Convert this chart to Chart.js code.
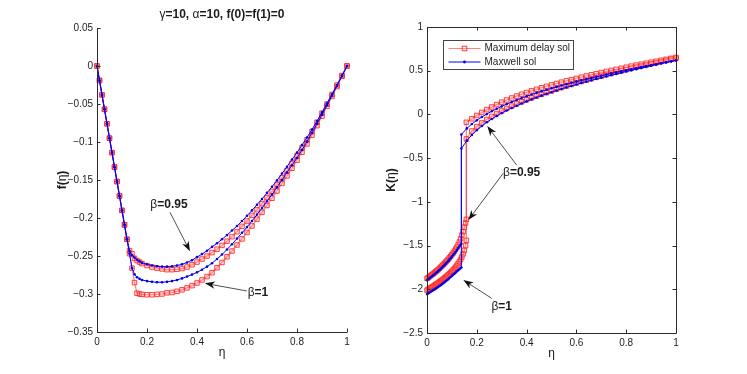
<!DOCTYPE html>
<html>
<head>
<meta charset="utf-8">
<script src="https://cdn.jsdelivr.net/npm/chart.js"></script>
<style>
  html, body { margin: 0; padding: 0; background: #fff; }
  #wrap { position: relative; width: 747px; height: 374px; overflow: hidden; }
  canvas { position: absolute; top: 0; }
  #fChart { left: 0; }
  #kChart { left: 373px; }
</style>
</head>
<body>
<div id="wrap">
  <canvas id="fChart" width="373" height="374"></canvas>
  <canvas id="kChart" width="374" height="374"></canvas>
</div>
<script>
// ---- data ----
const xTicks = [0, 0.2, 0.4, 0.6, 0.8, 1];
const fTicks = [0.05, 0, -0.05, -0.1, -0.15, -0.2, -0.25, -0.3, -0.35];
const kTicks = [1, 0.5, 0, -0.5, -1, -1.5, -2, -2.5];

const etaTail = [0.20, 0.22, 0.24, 0.26, 0.28, 0.30, 0.32, 0.34, 0.36, 0.38, 0.40, 0.42, 0.44, 0.46, 0.48,
    0.50, 0.52, 0.54, 0.56, 0.58, 0.60, 0.62, 0.64, 0.66, 0.68, 0.70, 0.72, 0.74, 0.76, 0.78, 0.80,
    0.82, 0.84, 0.86, 0.88, 0.90, 0.92, 0.94, 0.96, 0.98, 1.00];
const etaLeft = [0, 0.01, 0.02, 0.03, 0.04, 0.05, 0.06, 0.07, 0.08, 0.09, 0.10, 0.11, 0.12,
    0.13, 0.14, 0.15, 0.16, 0.17, 0.18].concat(etaTail);

// f(eta), beta = 0.95 and beta = 1
const fMaxwell095 = [0, -0.019, -0.038, -0.057, -0.076, -0.095, -0.114, -0.133, -0.152, -0.171, -0.19, -0.209, -0.228,
    -0.243, -0.249, -0.252, -0.255, -0.257, -0.259,
    -0.261, -0.2625, -0.2635, -0.264, -0.264, -0.2635, -0.2625, -0.261, -0.2585, -0.2555, -0.2515, -0.2475, -0.243,
    -0.238, -0.2333, -0.228, -0.2225, -0.2165, -0.2105, -0.204, -0.197, -0.19, -0.1825, -0.175, -0.167, -0.159,
    -0.1505, -0.1415, -0.1325, -0.123, -0.114, -0.104, -0.094, -0.0835, -0.0725, -0.061, -0.049, -0.037, -0.025, -0.0125, 0];
const fDelay095 = [0, -0.019, -0.038, -0.057, -0.076, -0.095, -0.114, -0.133, -0.152, -0.171, -0.19, -0.209, -0.228,
    -0.243, -0.247, -0.253, -0.256, -0.258, -0.26,
    -0.2625, -0.2645, -0.266, -0.267, -0.268, -0.268, -0.2675, -0.2665, -0.2645, -0.2615, -0.258, -0.254, -0.25,
    -0.2455, -0.241, -0.236, -0.2305, -0.2245, -0.218, -0.211, -0.204, -0.1965, -0.189, -0.181, -0.173, -0.165,
    -0.156, -0.147, -0.1375, -0.128, -0.118, -0.1075, -0.097, -0.086, -0.074, -0.062, -0.05, -0.0375, -0.025, -0.0125, 0];
const fMaxwell1 = [0, -0.019, -0.038, -0.057, -0.076, -0.095, -0.114, -0.133, -0.152, -0.171, -0.19, -0.209, -0.228,
    -0.247, -0.266, -0.274, -0.278, -0.28, -0.2815,
    -0.283, -0.284, -0.2845, -0.2845, -0.284, -0.283, -0.2815, -0.2795, -0.277, -0.2745, -0.2715, -0.268, -0.264,
    -0.2595, -0.254, -0.248, -0.2415, -0.2345, -0.227, -0.2195, -0.212, -0.204, -0.1955, -0.187, -0.178, -0.169,
    -0.1595, -0.15, -0.14, -0.1305, -0.121, -0.1105, -0.0995, -0.088, -0.076, -0.064, -0.0515, -0.039, -0.026, -0.013, 0];
const fDelay1 = [0, -0.019, -0.038, -0.057, -0.076, -0.095, -0.114, -0.133, -0.152, -0.171, -0.19, -0.209, -0.228,
    -0.247, -0.266, -0.285, -0.299, -0.3, -0.3005,
    -0.301, -0.301, -0.3005, -0.3, -0.2985, -0.298, -0.2965, -0.2945, -0.292, -0.289, -0.2855, -0.2815, -0.277,
    -0.272, -0.2655, -0.2585, -0.251, -0.2435, -0.2355, -0.2275, -0.219, -0.2105, -0.2015, -0.1925, -0.1835, -0.174,
    -0.1645, -0.1545, -0.1445, -0.1345, -0.124, -0.1135, -0.1025, -0.091, -0.0785, -0.066, -0.053, -0.04, -0.027, -0.0135, 0];

// K(eta): lower branch, then jump, then upper branch
const etaLowMaxwell = [0, 0.005, 0.01, 0.015, 0.02, 0.025, 0.03, 0.035, 0.04, 0.045, 0.05, 0.055, 0.06, 0.065, 0.07,
    0.075, 0.08, 0.085, 0.09, 0.095, 0.10, 0.105, 0.11, 0.115, 0.12, 0.125, 0.13, 0.135, 0.138];
const etaLowDelay = [0, 0.005, 0.01, 0.015, 0.02, 0.025, 0.03, 0.035, 0.04, 0.045, 0.05, 0.055, 0.06, 0.065, 0.07,
    0.075, 0.08, 0.085, 0.09, 0.095, 0.10, 0.105, 0.11, 0.115, 0.12, 0.125, 0.13, 0.135, 0.14, 0.145, 0.15, 0.155, 0.158];
const etaUpMaxwell = [0.138, 0.16, 0.18].concat(etaTail);
const etaUpDelay = [0.158, 0.18].concat(etaTail);

const kMaxwell095Low = [-1.895, -1.884, -1.873, -1.862, -1.851, -1.84, -1.828, -1.816, -1.804, -1.792, -1.779, -1.766,
    -1.752, -1.738, -1.724, -1.709, -1.694, -1.678, -1.661, -1.644, -1.626, -1.608, -1.59, -1.571, -1.552, -1.532,
    -1.51, -1.49, -1.48];
const kMaxwell1Low = [-2.055, -2.047, -2.038, -2.029, -2.02, -2.011, -2.002, -1.993, -1.983, -1.973, -1.963, -1.953,
    -1.942, -1.931, -1.92, -1.909, -1.897, -1.885, -1.872, -1.86, -1.848, -1.835, -1.822, -1.809, -1.795, -1.782,
    -1.77, -1.757, -1.75];
const kDelay095Low = [-1.876, -1.866, -1.855, -1.844, -1.833, -1.822, -1.81, -1.798, -1.786, -1.773, -1.76, -1.747,
    -1.733, -1.719, -1.704, -1.689, -1.673, -1.657, -1.64, -1.622, -1.604, -1.585, -1.564, -1.542, -1.518, -1.491,
    -1.46, -1.424, -1.38, -1.34, -1.29, -1.24, -1.2];
const kDelay1Low = [-2.01, -2.001, -1.992, -1.983, -1.974, -1.965, -1.955, -1.946, -1.936, -1.926, -1.916, -1.906,
    -1.895, -1.884, -1.872, -1.86, -1.848, -1.835, -1.822, -1.808, -1.794, -1.779, -1.763, -1.746, -1.727, -1.706,
    -1.684, -1.659, -1.63, -1.595, -1.555, -1.5, -1.44];

const kMaxwell095Up = [-0.23, -0.16, -0.11, -0.068, -0.03, 0.004, 0.036, 0.065, 0.092, 0.118, 0.142, 0.165, 0.187, 0.208,
    0.228, 0.247, 0.265, 0.282, 0.299, 0.315, 0.331, 0.346, 0.361, 0.375, 0.389, 0.403, 0.417, 0.43, 0.443, 0.456,
    0.469, 0.481, 0.493, 0.505, 0.517, 0.529, 0.541, 0.552, 0.563, 0.574, 0.585, 0.596, 0.607, 0.618];
const kMaxwell1Up = [-0.39, -0.3, -0.235, -0.18, -0.132, -0.09, -0.052, -0.017, 0.015, 0.045, 0.073, 0.1, 0.125, 0.149,
    0.172, 0.194, 0.215, 0.235, 0.254, 0.273, 0.291, 0.309, 0.326, 0.343, 0.359, 0.375, 0.39, 0.405, 0.42, 0.435,
    0.449, 0.463, 0.477, 0.491, 0.504, 0.517, 0.53, 0.543, 0.556, 0.569, 0.582, 0.594, 0.606, 0.615];
const kDelay095Up = [-0.09, -0.05, -0.012, 0.023, 0.055, 0.085, 0.113, 0.14, 0.165, 0.188, 0.21, 0.231, 0.251, 0.27,
    0.288, 0.305, 0.322, 0.338, 0.354, 0.369, 0.384, 0.398, 0.412, 0.426, 0.44, 0.453, 0.466, 0.479, 0.492, 0.504,
    0.516, 0.528, 0.54, 0.552, 0.564, 0.575, 0.586, 0.597, 0.608, 0.619, 0.63, 0.641, 0.652];
const kDelay1Up = [-0.28, -0.19, -0.14, -0.097, -0.058, -0.023, 0.01, 0.04, 0.068, 0.095, 0.12, 0.144, 0.167, 0.189,
    0.21, 0.23, 0.249, 0.268, 0.288, 0.307, 0.325, 0.343, 0.36, 0.377, 0.393, 0.409, 0.425, 0.44, 0.455, 0.47,
    0.484, 0.498, 0.512, 0.526, 0.54, 0.553, 0.566, 0.579, 0.592, 0.605, 0.618, 0.631, 0.643];

const legendNames = ['Maximum delay sol', 'Maxwell sol'];

// ---- drawing helpers ----
const FONT = '"Liberation Sans", Arial, Helvetica, sans-serif';
const INK = '#1c1c1c';
const AXIS = '#2a2a2a';
const RED_LINE = 'rgba(255, 45, 45, 0.6)';
const RED_EDGE = 'rgba(255, 25, 25, 0.8)';
const RED_FILL = 'rgba(255, 160, 160, 0.3)';
const BLUE = '#0000ff';

function pts(xs, ys) {
    return xs.map((x, i) => ({ x: x, y: ys[i] }));
}

function fmt(v) {
    if (v === 0) return '0';
    return (v < 0 ? '\u2212' : '') + String(Math.abs(v));
}

function drawRich(ctx, parts, x, y, size, align) {
    let total = 0;
    parts.forEach(p => {
        ctx.font = (p.b ? 'bold ' : '') + size + 'px ' + FONT;
        p.w = ctx.measureText(p.t).width;
        total += p.w;
    });
    let cx = align === 'left' ? x : x - total / 2;
    ctx.textAlign = 'left';
    ctx.textBaseline = 'middle';
    ctx.fillStyle = INK;
    parts.forEach(p => {
        ctx.font = (p.b ? 'bold ' : '') + size + 'px ' + FONT;
        ctx.fillText(p.t, cx, y);
        cx += p.w;
    });
}

function drawArrow(ctx, x1, y1, x2, y2) {
    const ang = Math.atan2(y2 - y1, x2 - x1);
    const head = 10, half = 3.6;
    ctx.strokeStyle = '#222';
    ctx.fillStyle = '#111';
    ctx.lineWidth = 0.8;
    ctx.beginPath();
    ctx.moveTo(x1, y1);
    ctx.lineTo(x2 - head * 0.6 * Math.cos(ang), y2 - head * 0.6 * Math.sin(ang));
    ctx.stroke();
    ctx.save();
    ctx.translate(x2, y2);
    ctx.rotate(ang);
    ctx.beginPath();
    ctx.moveTo(0, 0);
    ctx.lineTo(-head, -half);
    ctx.lineTo(-head * 0.7, 0);
    ctx.lineTo(-head, half);
    ctx.closePath();
    ctx.fill();
    ctx.restore();
}

const matlabLook = {
    id: 'matlab',
    afterDraw(chart, args, o) {
        const ctx = chart.ctx, a = chart.chartArea;
        const xs = chart.scales.x, ys = chart.scales.y;
        ctx.save();

        // axes lines and inward ticks
        ctx.strokeStyle = AXIS;
        ctx.lineWidth = 1;
        ctx.beginPath();
        if (o.box) {
            ctx.rect(a.left + 0.5, a.top + 0.5, a.right - a.left, a.bottom - a.top);
        } else {
            ctx.moveTo(a.left + 0.5, a.top);
            ctx.lineTo(a.left + 0.5, a.bottom + 0.5);
            ctx.lineTo(a.right + 0.5, a.bottom + 0.5);
        }
        const T = 3.5;
        xs.ticks.forEach(t => {
            const px = Math.round(xs.getPixelForValue(t.value)) + 0.5;
            ctx.moveTo(px, a.bottom);
            ctx.lineTo(px, a.bottom - T);
            if (o.box) { ctx.moveTo(px, a.top); ctx.lineTo(px, a.top + T); }
        });
        ys.ticks.forEach(t => {
            const py = Math.round(ys.getPixelForValue(t.value)) + 0.5;
            ctx.moveTo(a.left, py);
            ctx.lineTo(a.left + T, py);
            if (o.box) { ctx.moveTo(a.right, py); ctx.lineTo(a.right - T, py); }
        });
        ctx.stroke();

        // labels
        const midX = (a.left + a.right) / 2;
        if (o.title) drawRich(ctx, o.title, midX, a.top - 13, 12, 'center');
        drawRich(ctx, [{ t: '\u03b7' }], midX, a.bottom + 21, 12, 'center');
        ctx.save();
        ctx.translate(a.left - o.yLabelGap, (a.top + a.bottom) / 2);
        ctx.rotate(-Math.PI / 2);
        drawRich(ctx, o.yLabel, 0, 0, 12, 'center');
        ctx.restore();

        // annotations
        (o.notes || []).forEach(n => {
            n.arrows.forEach(ar => drawArrow(ctx,
                xs.getPixelForValue(ar[0]), ys.getPixelForValue(ar[1]),
                xs.getPixelForValue(ar[2]), ys.getPixelForValue(ar[3])));
            drawRich(ctx, n.text, xs.getPixelForValue(n.at[0]), ys.getPixelForValue(n.at[1]), 12, 'center');
        });

        // legend box inside the axes
        if (o.legend) {
            const bx = a.left + 16.5, by = a.top + 13.5, bw = 130, bh = 29;
            ctx.fillStyle = '#fff';
            ctx.fillRect(bx, by, bw, bh);
            ctx.strokeStyle = '#444';
            ctx.lineWidth = 1;
            ctx.strokeRect(bx, by, bw, bh);
            const rows = [by + 8, by + 21.5];
            // red entry
            ctx.strokeStyle = RED_LINE;
            ctx.lineWidth = 1.2;
            ctx.beginPath(); ctx.moveTo(bx + 5, rows[0]); ctx.lineTo(bx + 37, rows[0]); ctx.stroke();
            ctx.fillStyle = RED_FILL;
            ctx.strokeStyle = RED_EDGE;
            ctx.lineWidth = 1;
            ctx.fillRect(bx + 18.7, rows[0] - 2.3, 4.6, 4.6);
            ctx.strokeRect(bx + 18.7, rows[0] - 2.3, 4.6, 4.6);
            // blue entry
            ctx.strokeStyle = BLUE;
            ctx.beginPath(); ctx.moveTo(bx + 5, rows[1]); ctx.lineTo(bx + 37, rows[1]); ctx.stroke();
            ctx.fillStyle = BLUE;
            ctx.beginPath(); ctx.arc(bx + 21, rows[1], 1.4, 0, Math.PI * 2); ctx.fill();
            ctx.font = '10px ' + FONT;
            ctx.fillStyle = INK;
            ctx.textAlign = 'left';
            ctx.textBaseline = 'middle';
            ctx.fillText(legendNames[0], bx + 41, rows[0]);
            ctx.fillText(legendNames[1], bx + 41, rows[1]);
        }
        ctx.restore();
    }
};

function redSet(data) {
    return {
        data: data, showLine: true, clip: false, tension: 0,
        borderColor: RED_LINE, borderWidth: 1.2,
        pointStyle: 'rect', pointRadius: 3.2, pointBorderWidth: 1,
        pointBorderColor: RED_EDGE, pointBackgroundColor: RED_FILL
    };
}

function blueSet(data) {
    return {
        data: data, showLine: true, clip: false, tension: 0,
        borderColor: BLUE, borderWidth: 1,
        pointStyle: 'circle', pointRadius: 1.3, pointBorderWidth: 0,
        pointBackgroundColor: '#0000e6'
    };
}

function makeScales(yMin, yMax, yTicks, yWidth, xHeight) {
    const tickFont = { family: FONT, size: 10 };
    return {
        x: {
            type: 'linear', min: 0, max: 1,
            afterBuildTicks: s => { s.ticks = xTicks.map(v => ({ value: v })); },
            afterFit: s => { s.height = xHeight; },
            grid: { display: false, drawTicks: false },
            border: { display: false },
            ticks: { font: tickFont, color: INK, padding: 4, maxRotation: 0, autoSkip: false, callback: v => fmt(v) }
        },
        y: {
            type: 'linear', min: yMin, max: yMax,
            afterBuildTicks: s => { s.ticks = yTicks.map(v => ({ value: v })); },
            afterFit: s => { s.width = yWidth; },
            grid: { display: false, drawTicks: false },
            border: { display: false },
            ticks: { font: tickFont, color: INK, padding: 4, autoSkip: false, callback: v => fmt(v) }
        }
    };
}

const beta = (val) => [{ t: '\u03b2' }, { t: '=' + val, b: true }];

new Chart(document.getElementById('fChart'), {
    type: 'scatter',
    data: {
        datasets: [
            blueSet(pts(etaLeft, fMaxwell095)),
            blueSet(pts(etaLeft, fMaxwell1)),
            redSet(pts(etaLeft, fDelay095)),
            redSet(pts(etaLeft, fDelay1))
        ]
    },
    options: {
        responsive: false,
        animation: false,
        events: [],
        layout: { padding: { left: 0, right: 26, top: 28, bottom: 0 } },
        scales: makeScales(-0.35, 0.05, fTicks, 97, 42),
        plugins: {
            legend: { display: false },
            tooltip: { enabled: false },
            matlab: {
                box: false,
                title: [{ t: '\u03b3' }, { t: '=10, ', b: true }, { t: '\u03b1' }, { t: '=10, f(0)=f(1)=0', b: true }],
                yLabel: [{ t: 'f(', b: true }, { t: '\u03b7' }, { t: ')', b: true }],
                yLabelGap: 34,
                notes: [
                    { text: beta('0.95'), at: [0.288, -0.183], arrows: [[0.292, -0.1925, 0.372, -0.2438]] },
                    { text: beta('1'), at: [0.644, -0.298], arrows: [[0.599, -0.296, 0.432, -0.286]] }
                ]
            }
        }
    },
    plugins: [matlabLook]
});

new Chart(document.getElementById('kChart'), {
    type: 'scatter',
    data: {
        datasets: [
            blueSet(pts(etaLowMaxwell.concat(etaUpMaxwell), kMaxwell095Low.concat(kMaxwell095Up))),
            blueSet(pts(etaLowMaxwell.concat(etaUpMaxwell), kMaxwell1Low.concat(kMaxwell1Up))),
            redSet(pts(etaLowDelay.concat(etaUpDelay), kDelay095Low.concat(kDelay095Up))),
            redSet(pts(etaLowDelay.concat(etaUpDelay), kDelay1Low.concat(kDelay1Up)))
        ]
    },
    options: {
        responsive: false,
        animation: false,
        events: [],
        layout: { padding: { left: 0, right: 71, top: 27, bottom: 0 } },
        scales: makeScales(-2.5, 1, kTicks, 54, 41),
        plugins: {
            legend: { display: false },
            tooltip: { enabled: false },
            matlab: {
                box: true,
                legend: true,
                yLabel: [{ t: 'K(', b: true }, { t: '\u03b7' }, { t: ')', b: true }],
                yLabelGap: 35,
                notes: [
                    { text: beta('0.95'), at: [0.38, -0.662],
                      arrows: [[0.36, -0.579, 0.242, -0.133], [0.306, -0.674, 0.166, -1.208]] },
                    { text: beta('1'), at: [0.30, -2.204], arrows: [[0.26, -2.104, 0.146, -1.895]] }
                ]
            }
        }
    },
    plugins: [matlabLook]
});
</script>
</body>
</html>
